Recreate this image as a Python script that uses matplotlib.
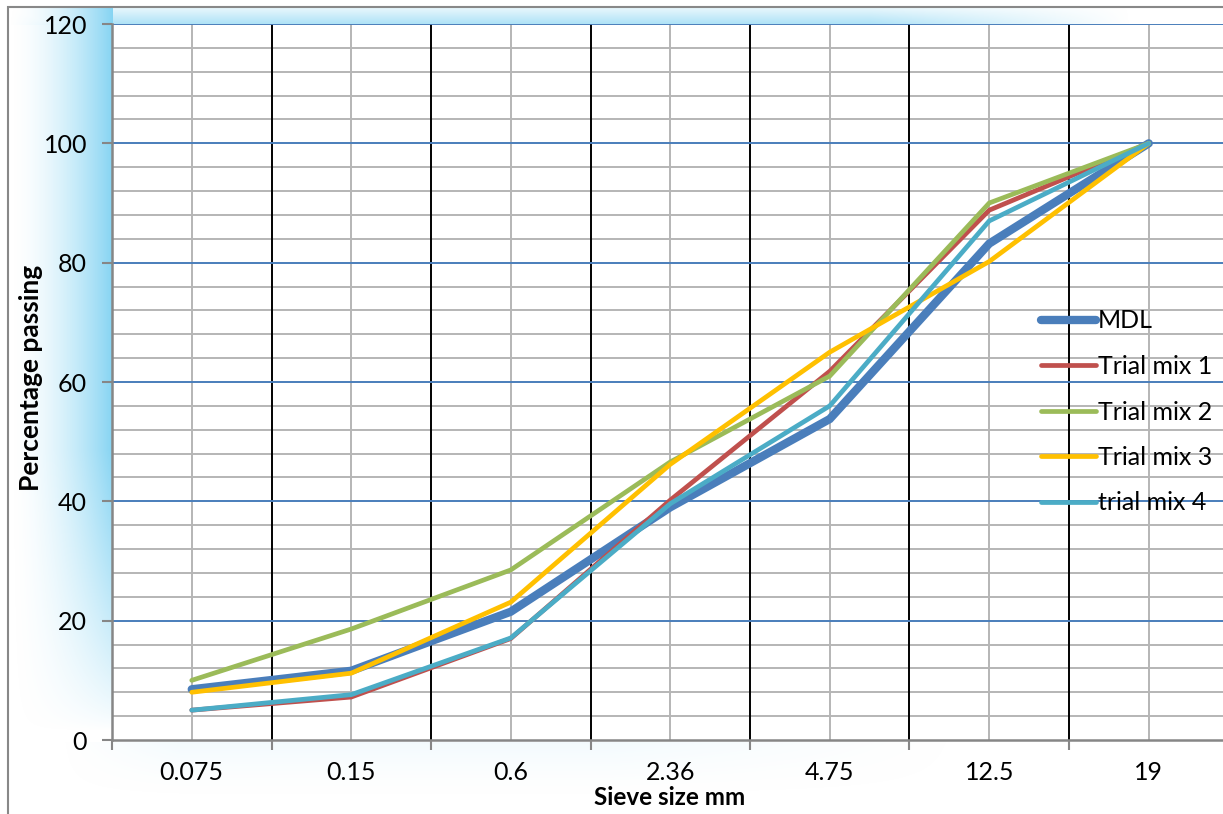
import numpy as np
import matplotlib
matplotlib.use("Agg")
import matplotlib.pyplot as plt
from matplotlib.patches import Rectangle

plt.rcParams['font.family'] = ['Lato', 'DejaVu Sans']

# sieve sizes (categorical x axis)
sieves = ["0.075", "0.15", "0.6", "2.36", "4.75", "12.5", "19"]

# percentage passing for each mix
mdl = [8.5, 11.6, 21.5, 39.0, 53.8, 83.2, 100]
trial1 = [5.0, 7.2, 17.0, 40.2, 61.8, 88.8, 100]
trial2 = [10.0, 18.6, 28.5, 46.6, 61.0, 90.0, 100]
trial3 = [8.0, 11.2, 23.1, 46.2, 65.0, 80.2, 100]
trial4 = [5.0, 7.6, 17.1, 39.6, 56.0, 87.0, 100]

names = ["MDL", "Trial mix 1", "Trial mix 2", "Trial mix 3", "trial mix 4"]
colors = ["#4A7EBB", "#C0504D", "#9BBB59", "#FFC000", "#4BACC6"]

FS = 18
W, H = 1223, 814
fig = plt.figure(figsize=(W / 100, H / 100), dpi=100)
fig.patch.set_facecolor("white")

# soft blue glow behind the plot area (chart style decoration)
bg = fig.add_axes([0, 0, 1, 1], zorder=-5)
bg.set_axis_off()
yy, xx = np.mgrid[0:H, 0:W].astype(float)
alpha = np.zeros((H, W))
# left strip
left = (xx >= 9) & (xx <= 112) & (yy >= 8)
ax_fac = np.clip((xx - 9) / 103, 0, 1) ** 1.7
vfac = np.clip((730 - yy) / 280, 0, 1) ** 0.8
alpha = np.where(left, ax_fac * vfac * 0.95, alpha)
# top strip
top = (yy >= 8) & (yy <= 24) & (xx > 9)
hfac = np.clip((1130 - xx) / 260, 0, 1) * np.clip((xx - 9) / 103, 0, 1) ** 1.2
tfac = np.clip(0.2 + (yy - 8) / 16 * 0.45, 0, 1)
alpha = np.where(top, np.maximum(alpha, hfac * tfac), alpha)
# faint glow under x axis
under = (yy > 741) & (yy < 800) & (xx > 9)
ufac = (np.clip((800 - yy) / 60, 0, 1) ** 1.5) * np.clip((960 - xx) / 350, 0, 1) \
    * np.clip((xx - 60) / 120, 0, 1) * 0.10
alpha = np.where(under, np.maximum(alpha, ufac), alpha)
img = np.zeros((H, W, 4))
img[..., 0] = 0x80 / 255
img[..., 1] = 0xD2 / 255
img[..., 2] = 0xF2 / 255
img[..., 3] = alpha
bg.imshow(img, extent=(0, W, H, 0), aspect="auto", interpolation="bilinear")
bg.set_xlim(0, W)
bg.set_ylim(H, 0)

# outer chart border
fig.patches.append(Rectangle((8 / W, -0.01), 1.0, 1 - 7 / H + 0.01, transform=fig.transFigure,
                             fill=False, edgecolor="#888888", linewidth=1.5, zorder=-4))

ax = fig.add_axes([112 / W, 1 - 740 / H, (1228.5 - 112) / W, (740 - 24) / H])
ax.set_facecolor("white")
x = np.arange(len(sieves))
ax.set_xlim(-0.5, len(sieves) - 0.5)
ax.set_ylim(0, 120)

# gridlines
for v in np.arange(4, 121, 4):
    if v % 20 == 0:
        ax.axhline(v, color="#4A7EBB", lw=1.4, zorder=1)
    else:
        ax.axhline(v, color="#B5B5B5", lw=1.4, zorder=0.5)
for c in x:
    ax.axvline(c, color="#B5B5B5", lw=1.4, zorder=0.6)
for b in np.arange(0.5, len(sieves), 1.0):
    ax.axvline(b, color="black", lw=1.4, zorder=0.8)

series = [mdl, trial1, trial2, trial3, trial4]
widths = [6.0, 3.4, 3.4, 3.4, 3.4]
for vals, name, col, lw in zip(series, names, colors, widths):
    ax.plot(x, vals, color=col, lw=lw, label=name, solid_capstyle="round",
            solid_joinstyle="miter", zorder=3)

# axes styling
for s in ["top", "right"]:
    ax.spines[s].set_visible(False)
for s in ["left", "bottom"]:
    ax.spines[s].set_color("#868686")
    ax.spines[s].set_linewidth(1.8)
    ax.spines[s].set_zorder(4)

ax.set_yticks(np.arange(0, 121, 20))
ax.tick_params(axis="y", length=7, width=1.5, color="#868686", pad=11, labelsize=FS)
ax.set_xticks(np.arange(-0.5, len(sieves), 1.0))
ax.set_xticklabels([])
ax.set_xticks(x, minor=True)
ax.set_xticklabels(sieves, minor=True)
ax.tick_params(axis="x", which="major", length=7, width=1.5, color="#868686")
ax.tick_params(axis="x", which="minor", length=0, pad=15, labelsize=FS)

aw = 1228.5 - 112
ah = 740 - 24
ax.set_xlabel("Sieve size mm", fontsize=FS - 0.5, fontweight="bold")
ax.xaxis.set_label_coords((670 - 112) / aw, -(786 - 740) / ah)
ax.set_ylabel("Percentage passing", fontsize=FS + 1, fontweight="bold")
ax.yaxis.set_label_coords(-(112 - 43) / aw, (740 - 378) / ah)

leg = fig.legend(loc="center left", bbox_to_anchor=(1018 / W, 1 - 412 / H), frameon=False,
                 fontsize=FS, handlelength=2.2, handletextpad=0.1, labelspacing=0.9)

fig.savefig("out.png", dpi=100)
